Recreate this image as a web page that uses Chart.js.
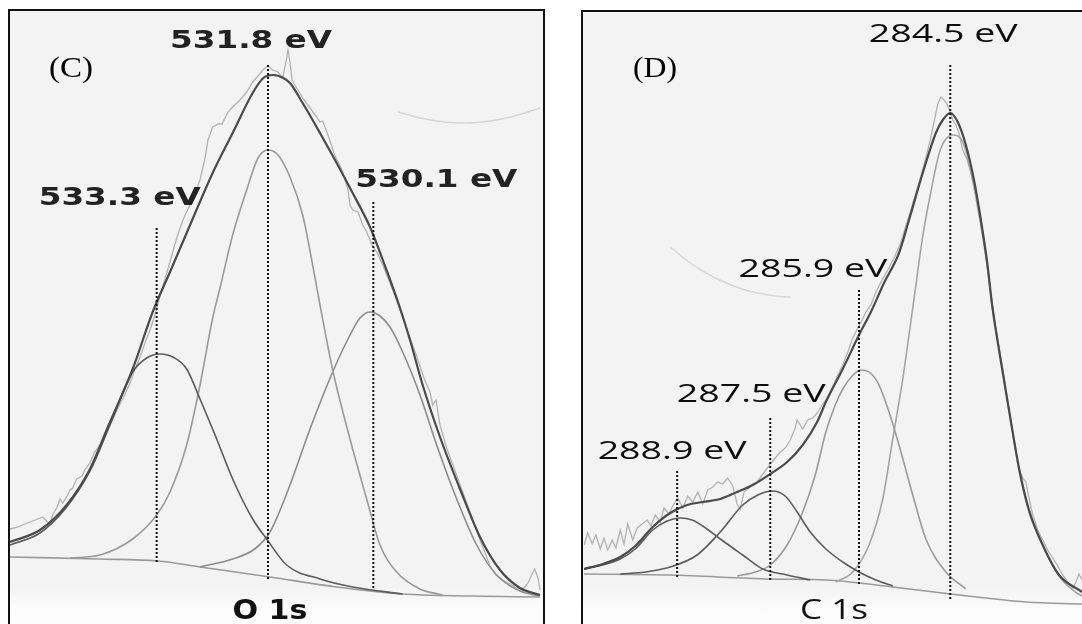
<!DOCTYPE html>
<html>
<head>
<meta charset="utf-8">
<script src="https://cdn.jsdelivr.net/npm/chart.js@4.4.1/dist/chart.umd.min.js"></script>
<style>
  html, body { margin: 0; padding: 0; background: #fff; width: 1082px; height: 624px; overflow: hidden; }
  .frame { position: absolute; border: 2px solid #111;
    background: linear-gradient(#f3f3f3 0%, #f3f3f3 90%, #fbfbfb 93%, #fff 100%); }
  #frameC { left: 8px; top: 9px; width: 533px; height: 640px; }
  #frameD { left: 581px; top: 10px; width: 530px; height: 640px; }
  canvas { position: absolute; }
  #chartC { left: 10px; top: 10px; }
  #chartD { left: 584px; top: 10px; }
</style>
</head>
<body>
<div class="frame" id="frameC"></div>
<div class="frame" id="frameD"></div>
<canvas id="chartC" width="533" height="614"></canvas>
<canvas id="chartD" width="498" height="614"></canvas>
<script>
// ---- O 1s (panel C): [binding energy eV, intensity a.u.] ----
const o1sEnvelope = [[535.50,82],[535.05,94],[534.65,119],[534.30,155],[534.00,202],[533.66,255],[533.36,312],[533.10,352],[532.85,391],[532.46,451],[532.16,491],[531.86,531],[531.70,546],[531.55,549],[531.40,546],[531.30,541],[531.11,521],[530.85,491],[530.60,461],[530.36,431],[530.10,397],[529.88,359],[529.65,316],[529.50,284],[529.31,239],[529.05,187],[528.75,135],[528.45,87],[528.15,54],[527.85,36],[527.55,29]];
const o1sPeak533 = [[535.50,79],[535.05,91],[534.65,117],[534.30,153],[534.00,199],[533.66,252],[533.45,266],[533.25,270],[533.03,266],[532.85,255],[532.65,225],[532.40,185],[532.16,145],[531.86,105],[531.65,85],[531.35,59],[530.85,45],[530.36,37],[529.61,30]];
const o1sPeak531 = [[534.60,66],[534.15,69],[533.66,85],[533.30,109],[533.10,132],[532.85,179],[532.65,239],[532.46,306],[532.35,336],[532.16,389],[531.95,434],[531.78,466],[531.63,474],[531.48,469],[531.30,447],[531.11,409],[530.96,359],[530.85,319],[530.66,254],[530.40,185],[530.15,125],[529.95,79],[529.70,52],[529.35,35],[529.01,29]];
const o1sPeak530 = [[532.65,57],[532.16,65],[531.83,75],[531.60,92],[531.30,139],[531.00,195],[530.66,252],[530.40,289],[530.25,306],[530.10,312],[529.95,308],[529.80,297],[529.61,272],[529.35,229],[529.10,179],[528.80,125],[528.50,79],[528.20,49],[527.81,32],[527.55,28]];
const o1sBackground = [[535.50,67],[534.15,65],[533.28,63],[532.65,57],[531.60,47],[530.60,37],[529.61,30],[528.60,28],[527.55,27]];
const o1sRaw = [[535.50,95],[535.38,97],[535.28,100],[535.16,103],[535.01,107],[534.95,103],[534.90,100],[534.86,109],[534.80,116],[534.75,125],[534.71,121],[534.65,127],[534.60,134],[534.56,136],[534.50,145],[534.42,148],[534.38,154],[534.30,161],[534.23,172],[534.15,179],[534.08,191],[534.00,200],[533.93,209],[533.85,220],[533.78,229],[533.70,241],[533.63,254],[533.55,267],[533.48,280],[533.40,294],[533.33,308],[533.25,328],[533.18,344],[533.10,362],[533.03,379],[532.95,396],[532.88,408],[532.80,419],[532.73,429],[532.65,444],[532.58,464],[532.53,484],[532.46,497],[532.38,500],[532.32,500],[532.23,512],[532.16,517],[532.05,524],[531.95,532],[531.86,542],[531.78,548],[531.71,554],[531.63,558],[531.56,554],[531.48,552],[531.41,546],[531.36,562],[531.33,574],[531.30,562],[531.27,544],[531.20,536],[531.11,526],[531.00,516],[530.91,508],[530.85,502],[530.81,503],[530.73,489],[530.63,469],[530.52,454],[530.43,434],[530.40,419],[530.36,414],[530.28,412],[530.21,399],[530.15,392],[530.07,379],[529.99,371],[529.91,359],[529.80,341],[529.70,324],[529.61,306],[529.50,286],[529.38,264],[529.28,244],[529.20,232],[529.16,219],[529.11,224],[529.05,199],[528.95,176],[528.83,154],[528.72,134],[528.60,112],[528.48,89],[528.39,74],[528.30,58],[528.21,49],[528.11,44],[528.00,40],[527.90,36],[527.81,35],[527.73,41],[527.67,50],[527.63,55],[527.58,46],[527.55,34]];
const o1sArc = [[529.68,512],[529.35,506],[528.98,502],[528.65,501],[528.30,503],[527.93,508],[527.55,516]];
const o1sPeakPos = [533.30, 531.63, 530.05];
const o1sPeakLabels = ['533.3 eV', '531.8 eV', '530.1 eV'];
const o1sMarkerTop = [398, 561, 422];
const o1sMarkerBottom = [62, 45, 36];

// ---- C 1s (panel D) ----
const c1sEnvelope = [[290.36,55],[290.06,60],[289.78,67],[289.54,78],[289.26,97],[288.98,111],[288.71,119],[288.46,122],[288.18,125],[287.91,132],[287.66,139],[287.38,150],[287.11,162],[286.86,179],[286.63,202],[286.49,222],[286.22,255],[285.96,289],[285.77,312],[285.56,341],[285.32,371],[285.16,404],[284.94,451],[284.73,491],[284.62,504],[284.50,511],[284.38,502],[284.25,479],[284.12,444],[284.01,404],[283.91,362],[283.83,319],[283.72,274],[283.56,214],[283.40,156],[283.24,114],[283.02,79],[282.76,49],[282.39,32]];
const c1sPeak289 = [[290.36,55],[290.06,59],[289.78,65],[289.54,75],[289.26,94],[289.03,103],[288.82,106],[288.63,104],[288.46,98],[288.18,85],[287.82,69],[287.50,55],[287.11,49],[286.74,44]];
const c1sPeak287 = [[289.78,50],[289.38,52],[288.98,57],[288.55,69],[288.18,92],[287.82,119],[287.58,129],[287.35,133],[287.14,128],[286.95,112],[286.74,92],[286.49,75],[286.22,62],[285.96,52],[285.69,44],[285.42,38]];
const c1sPeak286 = [[287.91,48],[287.62,52],[287.38,59],[287.11,79],[286.86,112],[286.66,149],[286.49,192],[286.34,219],[286.22,235],[286.07,248],[285.93,254],[285.78,251],[285.64,239],[285.48,212],[285.32,179],[285.10,129],[284.89,85],[284.57,52],[284.25,35]];
const c1sPeak284 = [[286.33,42],[286.06,52],[285.80,79],[285.58,125],[285.42,185],[285.26,245],[285.16,289],[285.06,334],[284.95,384],[284.82,429],[284.66,474],[284.46,489],[284.30,482],[284.15,446],[284.02,402],[283.91,359],[283.82,314],[283.70,269],[283.56,214],[283.40,154],[283.24,112],[283.02,78],[282.76,48],[282.50,32],[282.39,28]];
const c1sBackground = [[290.36,50],[288.98,49],[287.38,45],[286.49,44],[285.42,37],[284.36,29],[283.29,22],[282.39,20]];
const c1sRaw = [[290.36,79],[290.30,91],[290.23,80],[290.17,89],[290.10,75],[290.04,86],[289.98,74],[289.91,84],[289.85,76],[289.78,94],[289.72,80],[289.66,100],[289.58,84],[289.51,96],[289.43,100],[289.35,104],[289.29,98],[289.22,109],[289.14,102],[289.08,116],[289.00,110],[288.94,118],[288.86,126],[288.78,116],[288.70,128],[288.62,122],[288.54,132],[288.46,120],[288.38,134],[288.30,137],[288.22,142],[288.14,140],[288.06,146],[287.98,138],[287.91,120],[287.86,115],[287.80,132],[287.72,136],[287.66,140],[287.59,142],[287.51,149],[287.45,154],[287.38,160],[287.30,166],[287.22,172],[287.14,176],[287.06,184],[286.98,196],[286.95,204],[286.90,199],[286.86,195],[286.78,204],[286.70,206],[286.63,211],[286.55,219],[286.49,224],[286.39,236],[286.30,249],[286.22,259],[286.14,272],[286.06,286],[285.98,296],[285.91,304],[285.85,312],[285.77,319],[285.69,332],[285.59,344],[285.50,354],[285.40,366],[285.30,380],[285.22,396],[285.14,412],[285.06,429],[284.98,446],[284.90,464],[284.82,484],[284.76,502],[284.70,520],[284.65,527],[284.60,524],[284.55,520],[284.50,512],[284.46,504],[284.41,499],[284.36,491],[284.30,474],[284.23,464],[284.17,452],[284.10,434],[284.02,409],[283.94,374],[283.86,334],[283.78,299],[283.70,269],[283.62,236],[283.54,206],[283.46,178],[283.40,154],[283.34,146],[283.29,142],[283.24,126],[283.18,109],[283.10,94],[283.02,84],[282.94,74],[282.86,66],[282.78,58],[282.70,49],[282.62,42],[282.54,36],[282.49,42],[282.44,50],[282.39,44]];
const c1sArc = [[288.98,377],[288.66,361],[288.26,346],[287.78,334],[287.30,328],[287.06,327]];
const c1sPeakPos = [288.87, 287.38, 285.96, 284.50];
const c1sPeakLabels = ['288.9 eV', '287.5 eV', '285.9 eV', '284.5 eV'];
const c1sMarkerTop = [153, 208, 336, 561];
const c1sMarkerBottom = [47, 44, 40, 25];

function pts(arr) {
  return arr.map(p => ({ x: p[0], y: p[1] }));
}

function drawFitted(ctx, text, cx, baseY, font, width, color) {
  ctx.save();
  ctx.font = font;
  ctx.fillStyle = color;
  ctx.textAlign = 'center';
  ctx.textBaseline = 'alphabetic';
  const w = ctx.measureText(text).width;
  ctx.translate(cx, baseY);
  ctx.scale(width / w, 1);
  ctx.fillText(text, 0, 0);
  ctx.restore();
}

// peak labels, panel letter and core-level name
const labelPlugin = {
  id: 'peakLabels',
  afterDatasetsDraw(chart, args, opts) {
    const ctx = chart.ctx;
    const xs = chart.scales.x, ys = chart.scales.y;
    opts.positions.forEach((e, i) => {
      const px = xs.getPixelForValue(e) + opts.offsets[i][0];
      const py = ys.getPixelForValue(opts.tops[i]) + opts.offsets[i][1];
      drawFitted(ctx, opts.labels[i], px, py, opts.font, opts.width, opts.color);
    });
    drawFitted(ctx, opts.panel, opts.panelAt[0], opts.panelAt[1], '30px "Liberation Serif"', 44, '#000');
    drawFitted(ctx, opts.title, opts.titleAt[0], opts.titleAt[1], opts.titleFont, opts.titleWidth, '#111');
  }
};

function line(data, color, width, extra) {
  return Object.assign({
    data: pts(data), borderColor: color, borderWidth: width,
    pointRadius: 0, fill: false, cubicInterpolationMode: 'monotone'
  }, extra || {});
}

function makeChart(id, cfg) {
  const markers = cfg.positions.map((e, i) => ({
    data: [{ x: e, y: cfg.bottoms[i] }, { x: e, y: cfg.tops[i] }],
    borderColor: '#111', borderWidth: 2, borderDash: [2, 2], pointRadius: 0, fill: false
  }));
  new Chart(document.getElementById(id), {
    type: 'line',
    data: { datasets: markers.concat(cfg.series) },
    options: {
      responsive: false,
      animation: false,
      layout: { padding: 0 },
      plugins: {
        legend: { display: false },
        tooltip: { enabled: false },
        peakLabels: cfg.labels
      },
      scales: {
        x: { type: 'linear', reverse: true, min: cfg.xmin, max: cfg.xmax, display: false },
        y: { min: 0, max: 614, display: false }
      }
    },
    plugins: [labelPlugin]
  });
}

makeChart('chartC', {
  xmin: 527.505, xmax: 535.5,
  positions: o1sPeakPos, tops: o1sMarkerTop, bottoms: o1sMarkerBottom,
  series: [
    line(o1sEnvelope, '#4a4a4a', 2.2),
    line(o1sPeak533, '#5c5c5c', 1.6),
    line(o1sPeak531, '#9a9a9a', 1.6),
    line(o1sPeak530, '#8c8c8c', 1.6),
    line(o1sBackground, '#9a9a9a', 1.6),
    line(o1sRaw, '#b2b2b2', 1.3, { cubicInterpolationMode: 'default', tension: 0 }),
    line(o1sArc, '#d6d6d6', 1.5)
  ],
  labels: {
    positions: o1sPeakPos, tops: o1sMarkerTop, labels: o1sPeakLabels,
    offsets: [[-37, -21], [-17, -15], [63, -15]],
    font: 'bold 25px "DejaVu Sans"', width: 162, color: '#222',
    panel: '(C)', panelAt: [61, 67],
    title: 'O 1s', titleAt: [260, 609], titleFont: 'bold 26px "DejaVu Sans"', titleWidth: 75
  }
});

makeChart('chartD', {
  xmin: 282.392, xmax: 290.36,
  positions: c1sPeakPos, tops: c1sMarkerTop, bottoms: c1sMarkerBottom,
  series: [
    line(c1sEnvelope, '#4a4a4a', 2.2),
    line(c1sPeak289, '#5c5c5c', 1.6),
    line(c1sPeak287, '#5c5c5c', 1.6),
    line(c1sPeak286, '#9a9a9a', 1.6),
    line(c1sPeak284, '#a4a4a4', 1.6),
    line(c1sBackground, '#9a9a9a', 1.6),
    line(c1sRaw, '#b2b2b2', 1.3, { cubicInterpolationMode: 'default', tension: 0 }),
    line(c1sArc, '#d6d6d6', 1.5)
  ],
  labels: {
    positions: c1sPeakPos, tops: c1sMarkerTop, labels: c1sPeakLabels,
    offsets: [[-5, -12], [-19, -14], [-46, -11], [-7, -21]],
    font: '26px "Open Sans"', width: 149, color: '#0d0d0d',
    panel: '(D)', panelAt: [71, 67],
    title: 'C 1s', titleAt: [250, 609], titleFont: '27px "Open Sans"', titleWidth: 68
  }
});
</script>
</body>
</html>
